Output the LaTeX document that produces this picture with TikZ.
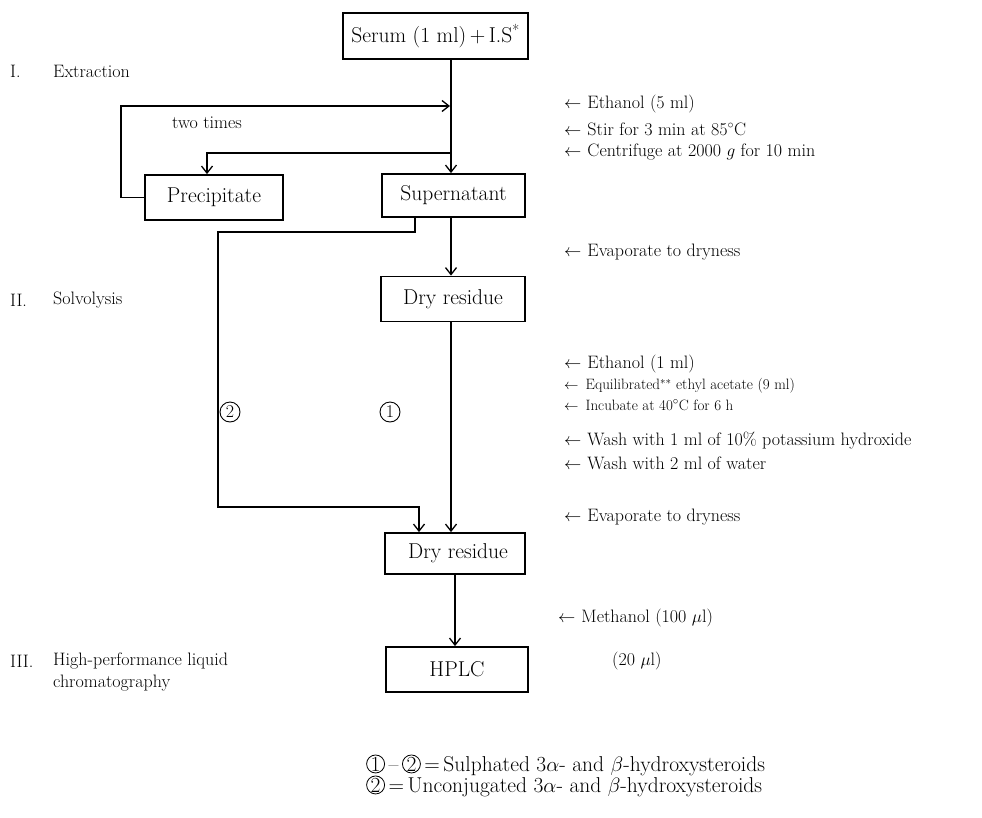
\documentclass[tikz,border=0pt]{standalone}
\usetikzlibrary{arrows.meta}
\newcommand\fs{\fontsize{18}{21}\selectfont}
\newcommand\fb{\fontsize{21.5}{25}\selectfont}
\newcommand\fss{\fontsize{15}{18}\selectfont}
\newcommand\flg{\fontsize{21.5}{24}\selectfont}
\newcommand\cnum[1]{\tikz[baseline=(cn.base)]\node[circle,draw,line width=0.8pt,inner sep=0pt,minimum size=18pt](cn){#1};}
\tikzset{
  box/.style={draw,line width=1.8pt,fill=white,inner sep=0pt,font=\fb},
  ln/.style={line width=1.3pt},
  arr/.style={ln,-{Straight Barb[length=7pt,width=11pt,line width=1.3pt]}},
  txt/.style={anchor=west,inner sep=0pt,font=\fs},
  stxt/.style={anchor=west,inner sep=0pt,font=\fss},
  lgtxt/.style={anchor=west,inner sep=0pt,font=\flg},
  cnode/.style={circle,draw,line width=0.9pt,inner sep=0pt,minimum size=20pt,font=\fs},
}
\begin{document}
\begin{tikzpicture}[x=1pt,y=-1pt]
\useasboundingbox (0,0) rectangle (982,817);
% boxes
\node[box,minimum width=185pt,minimum height=46pt] (serum) at (435.5,36) {Serum (1 ml)\,+\,I.S\textsuperscript{*}};
\node[box,minimum width=143pt,minimum height=43pt] (sup) at (453.5,195.5) {Supernatant};
\node[box,minimum width=138pt,minimum height=45pt] (prec) at (214,197.5) {Precipitate};
\node[box,minimum width=144pt,minimum height=45pt] (dry1) at (453,299) {Dry residue};
\node[box,minimum width=140pt,minimum height=41pt] (dry2) at (455,553.5) {\hspace{6pt}Dry residue};
\node[box,minimum width=142pt,minimum height=45pt] (hplc) at (457,669.5) {HPLC};
% coordinates
\coordinate (ml) at (451,0);
\coordinate (ml2) at (455,0);
\coordinate (loopin) at (450,106);
\coordinate (j) at (451,153);
\coordinate (pa) at (207,0);
\coordinate (lx) at (415,0);
\coordinate (rx) at (419,0);
\coordinate (lv) at (218,507);
% connectors
\draw[ln] (serum.south -| ml) -- (j);
\draw[arr] (j) -- (sup.north -| ml);
\draw[arr] (j) -| (prec.north -| pa);
\draw[arr] (prec.west) -- ++(-23,0) |- (loopin);
\draw[arr] (sup.south -| ml) -- (dry1.north -| ml);
\draw[arr] (sup.south -| lx) -- ++(0,14) -| (lv) -| (dry2.north -| rx);
\draw[arr] (dry1.south -| ml) -- (dry2.north -| ml);
\draw[arr] (dry2.south -| ml2) -- (hplc.north -| ml2);
% labels
\node[font=\fs] (tt) at (207,123) {two times};
\node[cnode] (c2) at (230,412) {2};
\node[cnode] (c1) at (390,412) {1};
% left section titles
\node[txt] (s1) at (10,71) {I.};
\node[txt] (s1t) at (53,71) {Extraction};
\node[txt] (s2) at (10,300) {II.};
\node[txt] (s2t) at (53,300) {Solvolysis};
\node[txt] (s3) at (10,661) {III.};
\node[txt] (s3t) at (53,661) {High-performance liquid};
\node[txt] (s3u) at (53,683) {chromatography};
% right step texts
\node[txt] (r1) at (564,104) {$\leftarrow$\hspace{6pt}Ethanol (5 ml)};
\node[txt] (r2) at (564,129) {$\leftarrow$\hspace{6pt}Stir for 3 min at 85$^\circ$C};
\node[txt] (r3) at (564,152) {$\leftarrow$\hspace{6pt}Centrifuge at 2000 $g$ for 10 min};
\node[txt] (r4) at (564,252) {$\leftarrow$\hspace{6pt}Evaporate to dryness};
\node[txt] (r5) at (564,364) {$\leftarrow$\hspace{6pt}Ethanol (1 ml)};
\node[stxt] (r6) at (564,386) {$\leftarrow$\hspace{7pt}Equilibrated$^{**}$ ethyl acetate (9 ml)};
\node[stxt] (r7) at (564,405) {$\leftarrow$\hspace{7pt}Incubate at 40$^\circ$C for 6 h};
\node[txt] (r8) at (564,441) {$\leftarrow$\hspace{6pt}Wash with 1 ml of 10\% potassium hydroxide};
\node[txt] (r9) at (564,463) {$\leftarrow$\hspace{6pt}Wash with 2 ml of water};
\node[txt] (r10) at (564,517) {$\leftarrow$\hspace{6pt}Evaporate to dryness};
\node[txt] (r11) at (558,618) {$\leftarrow$\hspace{6pt}Methanol (100 $\mu$l)};
\node[txt] (r12) at (612,661) {(20 $\mu$l)};
% legend
\node[lgtxt] (lg1) at (366,765) {\cnum{1}\,--\,\cnum{2}\,=\,Sulphated 3$\alpha$- and $\beta$-hydroxysteroids};
\node[lgtxt] (lg2) at (366,786) {\cnum{2}\,=\,Unconjugated 3$\alpha$- and $\beta$-hydroxysteroids};
\end{tikzpicture}
\end{document}
